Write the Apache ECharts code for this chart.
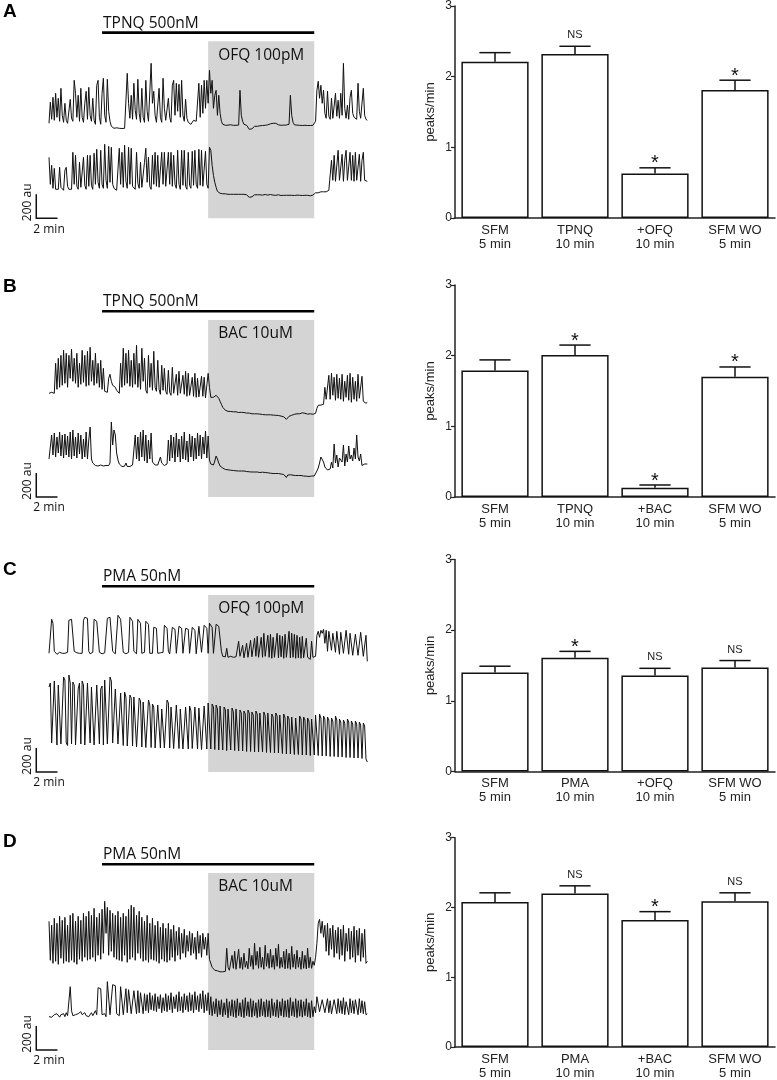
<!DOCTYPE html>
<html><head><meta charset="utf-8">
<script src="https://cdn.jsdelivr.net/npm/echarts/dist/echarts.min.js"></script>
<style>html,body{margin:0;padding:0;background:#fff}#c{width:777px;height:1080px}</style>
</head><body><div id="c"></div>
<script>
// ---------------- DATA ----------------
// Calcium traces, sampled every 0.125 min (0..30 min), values in au relative to each trace's own baseline
const SAMPLE_MIN = 0.125;
const traceA1 = [
0,210,40,260,30,300,60,250,20,350,
80,10,200,30,0,-10,240,50,20,430,
300,60,280,20,350,60,10,200,320,40,
360,80,20,250,30,-10,380,430,60,-10,
300,450,80,10,440,120,20,-30,-40,-50,
-50,-45,-55,-50,-48,-52,-45,-50,-40,500,
200,50,280,40,400,130,40,440,100,10,
350,60,10,430,120,20,10,600,200,320,
80,10,0,350,60,10,450,150,30,10,
250,60,10,380,430,80,400,120,390,60,
430,80,20,240,50,10,0,-10,0,30,
50,20,10,400,60,380,100,430,150,430,
200,530,300,430,150,280,330,80,280,100,
20,-10,-15,-20,-15,-18,-20,-15,-17,-20,
-18,-20,-15,-18,330,80,20,-10,-15,-20,
-40,-60,-65,-55,-40,-30,-35,-30,-28,-25,
-25,-22,-20,-20,-18,-15,-10,-5,0,0,
5,0,-10,-15,-18,-20,-15,-18,-20,-17,
-15,-10,280,80,10,-15,-20,-18,-22,-20,
-20,-22,-18,-20,-25,-22,-20,-22,-25,-20,
-10,20,330,420,250,380,200,330,100,50,
320,70,40,250,50,30,300,70,230,50,
300,80,600,150,50,180,40,260,330,100,
60,50,40,400,120,50,40,350,80,40,
30];
const traceA2 = [
330,60,250,20,220,10,0,10,230,30,
10,0,200,230,40,10,0,10,380,60,
350,40,10,280,30,10,330,50,10,350,
40,350,50,10,370,60,410,80,20,400,
60,20,460,100,20,440,80,430,60,20,
10,0,5,420,60,380,30,450,90,20,
430,60,420,40,20,10,380,70,20,280,
30,10,280,420,80,330,40,10,350,60,
380,40,350,30,10,380,60,380,40,20,
380,60,380,40,350,60,20,400,60,10,
400,50,400,40,10,380,50,20,390,50,
400,60,20,410,50,400,40,20,390,60,
20,430,400,250,150,80,30,-10,-20,-30,
-30,-35,-40,-35,-38,-40,-35,-40,-38,-40,
-42,-40,-38,-40,-42,-40,-45,-40,-42,-45,
-55,-70,-85,-65,-50,-45,-48,-45,-42,-45,
-45,-48,-45,-42,-45,-48,-45,-42,-45,-48,
-45,-50,-48,-45,-50,-52,-48,-50,-52,-50,
-48,-50,-52,-50,-48,-52,-50,-48,-52,-50,
-50,-52,-48,-50,-52,-50,-52,-55,-50,-48,
-30,-25,-20,-25,-20,-15,-20,-15,-10,-15,
-10,0,10,300,100,350,90,90,400,100,
80,360,90,300,400,100,80,380,100,350,
90,380,100,80,360,90,300,380,100,80,
90];
const traceB1 = [
0,20,10,5,0,300,40,350,60,380,
80,430,100,400,60,380,150,440,120,350,
100,400,60,300,90,430,110,380,70,420,
80,460,120,330,80,400,100,300,60,330,
40,250,20,0,10,150,190,120,80,100,
60,30,10,0,300,60,450,80,400,100,
430,70,330,60,400,90,480,60,300,40,
450,120,350,30,0,380,60,300,30,420,
60,20,330,40,-10,280,30,250,20,-10,
230,10,-20,260,0,-10,190,-20,220,0,
-20,180,-10,220,-30,200,-20,-35,160,-30,
200,-40,150,-35,-40,170,-30,160,-45,-40,
200,60,-40,-50,-40,-30,-20,-30,-50,-80,
-110,-140,-160,-170,-175,-180,-178,-182,-180,-185,
-188,-185,-190,-192,-188,-190,-195,-192,-195,-198,
-200,-198,-202,-205,-200,-205,-208,-205,-210,-208,
-210,-212,-210,-215,-212,-215,-218,-215,-220,-218,
-222,-220,-225,-222,-225,-228,-230,-235,-250,-260,
-240,-230,-225,-220,-215,-210,-212,-205,-200,-205,
-200,-195,-198,-200,-205,-208,-210,-205,-208,-210,
-212,-200,-150,-120,-115,-118,-120,-110,60,-60,
-80,180,-60,200,-20,160,-70,190,-50,150,
-60,190,-80,120,-40,180,-70,200,-90,160,
-60,120,-80,190,-50,-70,170,-80,-90,-100,
-90];
const traceB2 = [
60,80,300,100,320,80,280,120,330,90,
300,70,310,100,290,80,330,60,350,90,
280,70,320,110,300,60,260,80,330,60,
250,380,60,20,0,-5,0,-10,-5,0,
-5,-10,0,-5,-10,-5,20,430,200,350,
300,120,50,10,-10,-15,-10,-12,20,-15,
-10,-15,-10,0,20,300,60,280,40,330,
80,350,40,300,20,250,60,320,30,10,
0,-5,0,10,80,20,0,-5,0,10,
250,40,300,70,280,30,320,80,260,30,
290,60,330,50,240,30,310,80,290,40,
270,60,320,90,300,60,280,110,340,70,
290,50,10,-5,0,40,90,60,20,-10,
-25,-30,-40,-45,-50,-48,-50,-52,-50,-55,
-55,-58,-55,-60,-58,-60,-62,-60,-62,-65,
-65,-68,-65,-70,-68,-70,-72,-70,-72,-75,
-75,-72,-78,-75,-80,-78,-80,-82,-80,-85,
-82,-85,-88,-85,-88,-90,-92,-95,-110,-125,
-100,-95,-98,-100,-102,-100,-105,-102,-105,-108,
-105,-108,-110,-108,-112,-110,-115,-112,-110,-115,
-110,-90,-60,-30,20,80,60,30,-20,-40,
-50,-45,-40,30,-30,210,20,100,-20,70,
80,30,200,-10,110,30,190,60,100,40,
170,60,300,80,40,110,-5,-20,10,0,
10];
const traceC1 = [
0,10,340,300,20,0,-10,0,10,-5,
0,5,0,-10,10,330,350,340,320,20,
0,5,-5,0,10,0,330,360,340,350,
20,-5,0,10,340,330,320,300,10,0,
-5,0,5,10,350,370,360,340,20,0,
-5,0,380,360,340,320,10,0,-5,0,
10,360,340,320,20,0,-5,340,330,300,
0,-5,10,320,310,290,0,-5,0,260,
270,250,0,-10,5,0,10,280,260,250,
20,-5,0,260,250,240,0,-5,270,260,
250,0,0,250,270,240,0,-5,260,250,
230,-5,0,270,260,10,-5,280,270,250,
0,300,280,260,0,-5,290,300,270,280,
20,-30,-40,-35,50,-40,-45,-30,-50,-40,
-45,-35,-50,120,-30,-40,80,-45,-55,100,
-40,-50,130,-35,-55,150,-30,170,-40,-50,
160,-40,200,-30,-50,180,-40,190,-50,160,
-40,-55,200,-45,180,-35,170,-50,190,-40,
-55,220,-45,200,-40,190,-50,180,-45,160,
-50,170,-45,-55,150,-40,-55,-60,120,-40,
-50,-30,180,220,160,230,200,240,100,230,
20,220,210,30,200,190,10,220,200,-10,
210,200,0,-20,230,210,-10,200,190,-20,
-30,190,200,-20,-30,210,200,-30,-40,180,
-80];
const traceC2 = [
580,620,20,10,640,650,0,600,620,10,
0,680,650,20,-5,700,620,10,630,600,
0,-10,560,620,10,640,600,0,-10,620,
600,20,580,560,0,-10,600,620,10,560,
590,0,650,660,10,-10,680,640,20,0,
560,540,10,-10,520,500,-5,530,480,-10,
-15,500,470,-10,480,460,-20,-15,470,440,
-20,430,420,-25,-20,450,400,-25,410,380,
-30,-25,400,380,-30,360,370,-30,-35,450,
420,-30,380,360,-35,-30,400,380,-35,360,
340,-40,-35,380,360,-40,390,340,-35,-40,
380,360,-40,370,350,-45,-40,390,370,-40,
420,400,-40,410,380,-45,400,360,-50,390,
370,-50,380,350,-55,360,340,-50,370,330,
-55,360,340,-60,350,320,-60,340,310,-65,
350,320,-65,330,300,-70,340,310,-70,320,
300,-70,330,290,-75,320,300,-75,310,280,
-80,320,290,-80,300,280,-85,310,270,-90,
290,260,-90,280,300,-95,270,250,-95,290,
260,-100,280,250,-100,270,240,-105,260,250,
-100,300,280,-105,310,270,-110,290,260,-110,
280,250,-115,270,240,-115,290,250,-120,260,
230,-120,250,220,-125,260,230,-125,240,210,
-130,240,210,-130,230,200,-135,220,190,-140,
-170];
const traceD1 = [
420,30,380,0,450,20,400,-10,470,50,
430,0,460,20,380,10,480,30,500,10,
420,-10,470,40,430,20,500,60,470,30,
520,40,480,60,550,20,460,80,500,40,
540,100,620,300,560,80,530,120,500,60,
480,40,520,30,460,20,500,80,470,10,
540,40,580,60,560,30,480,100,520,50,
460,20,420,30,480,10,400,40,450,30,
380,20,420,0,360,40,400,20,350,10,
400,30,340,60,380,20,320,80,360,40,
300,100,340,60,280,120,320,80,300,100,
260,40,320,100,280,60,300,140,260,80,
300,40,20,-40,-60,-70,-80,-75,-80,-85,
-80,-85,-82,-80,150,-40,-70,-60,80,-50,
120,-60,-40,140,-50,60,-60,100,-40,20,
-55,150,-30,80,-60,200,-20,120,-50,160,
-40,60,-60,180,-30,100,-50,140,-40,80,
-60,150,-30,190,-50,60,-40,120,-55,140,
-50,100,-60,170,-40,90,-55,130,-40,60,
-60,120,-50,80,-55,150,-45,60,-50,20,
-20,60,200,400,440,300,420,260,380,120,
400,80,350,140,380,60,330,100,360,40,
340,80,380,20,300,120,350,40,320,60,
370,10,330,80,350,20,300,60,340,0,
20];
const traceD2 = [
0,10,-5,5,20,0,30,10,-5,20,
10,30,0,40,10,20,300,60,10,0,
20,0,30,10,50,20,0,40,10,30,
0,20,40,10,30,60,20,290,300,280,
20,10,30,0,350,340,20,40,320,330,
310,30,20,10,300,290,20,10,280,40,
270,260,30,20,260,250,30,260,40,240,
250,30,230,60,220,40,240,70,210,60,
230,50,200,80,220,40,190,60,230,50,
210,70,240,40,200,80,220,50,250,60,
200,40,230,70,210,50,240,60,220,40,
250,70,210,50,230,80,260,40,220,60,
240,20,200,10,150,30,180,0,160,20,
170,0,140,20,180,-10,150,10,170,0,
160,-10,180,10,140,0,170,-10,190,10,
150,0,180,-5,160,10,140,-10,170,0,
180,10,150,-5,170,0,160,-10,180,10,
140,0,170,-10,150,10,180,-5,160,0,
170,-10,190,10,150,0,180,-10,160,5,
170,-5,150,10,180,0,140,-10,160,0,
100,40,200,180,50,30,170,190,40,20,
180,40,160,30,20,170,150,30,180,40,
160,30,190,20,150,170,20,180,40,160,
30,170,150,20,180,40,160,30,150,20,
30];

// Treatment periods (min)
const drug1Labels = ['TPNQ 500nM', 'TPNQ 500nM', 'PMA 50nM', 'PMA 50nM'];
const drug2Labels = ['OFQ 100pM', 'BAC 10uM', 'OFQ 100pM', 'BAC 10uM'];
const drug1Period = [5, 25];
const drug2Period = [15, 25];
const panelLetters = ['A', 'B', 'C', 'D'];

// Bar charts (peaks/min, mean and SEM)
const catsA = ['SFM\n5 min', 'TPNQ\n10 min', '+OFQ\n10 min', 'SFM WO\n5 min'];
const catsB = ['SFM\n5 min', 'TPNQ\n10 min', '+BAC\n10 min', 'SFM WO\n5 min'];
const catsC = ['SFM\n5 min', 'PMA\n10 min', '+OFQ\n10 min', 'SFM WO\n5 min'];
const catsD = ['SFM\n5 min', 'PMA\n10 min', '+BAC\n10 min', 'SFM WO\n5 min'];
const meanA = [2.21, 2.32, 0.63, 1.81];
const semA  = [0.13, 0.11, 0.08, 0.14];
const meanB = [1.79, 2.01, 0.13, 1.70];
const semB  = [0.15, 0.14, 0.04, 0.14];
const meanC = [1.40, 1.61, 1.36, 1.47];
const semC  = [0.09, 0.09, 0.10, 0.10];
const meanD = [2.08, 2.20, 1.82, 2.09];
const semD  = [0.13, 0.11, 0.12, 0.12];
const sigA = ['', 'NS', '*', '*'];
const sigB = ['', '*', '*', '*'];
const sigC = ['', '*', 'NS', 'NS'];
const sigD = ['', 'NS', '*', 'NS'];
const yTicks = [0, 1, 2, 3];

// ---------------- LAYOUT ----------------
const traces = [[traceA1, traceA2], [traceB1, traceB2], [traceC1, traceC2], [traceD1, traceD2]];
const traceOffsets = [[950, 280], [1037, 320], [1187, 270], [867, 333]]; // display offsets (au)
const panelBottom = [218.3, 497, 772, 1050];
const barBottom = [218, 497, 771.5, 1049.7];
const letterTop = [5, 280, 563, 835];
const TRACE_H = 177, TRACE_LEFT = 49, TRACE_W = 318.3, AU_PER_PX = 10;
const BAR_LEFT = 455, BAR_W = 320, BAR_H = 212;
const cats = [catsA, catsB, catsC, catsD];
const means = [meanA, meanB, meanC, meanD];
const sems = [semA, semB, semC, semD];
const sigs = [sigA, sigB, sigC, sigD];

const FONT_T = '"Open Sans", "DejaVu Sans", sans-serif';
const FONT_B = '"Liberation Sans", Arial, sans-serif';
const INK = '#111';

const grid = [], xAxis = [], yAxis = [], series = [];
for (let k = 0; k < 4; k++) {
  grid.push({left: TRACE_LEFT, top: panelBottom[k] - TRACE_H, width: TRACE_W, height: TRACE_H});
  xAxis.push({gridIndex: k, type: 'value', min: 0, max: 30, show: false});
  yAxis.push({gridIndex: k, type: 'value', min: 0, max: TRACE_H * AU_PER_PX, show: false});
  series.push({
    type: 'line', xAxisIndex: k, yAxisIndex: k, data: [], z: 1, silent: true,
    markArea: {silent: true, itemStyle: {color: '#d4d4d4'}, label: {show: false},
      data: [[{xAxis: drug2Period[0]}, {xAxis: drug2Period[1]}]]}
  });
  traces[k].forEach((tr, j) => {
    series.push({
      type: 'line', xAxisIndex: k, yAxisIndex: k, z: 3, silent: true,
      symbol: 'none', lineStyle: {color: INK, width: 1},
      data: tr.map((v, i) => [i * SAMPLE_MIN, v + traceOffsets[k][j]])
    });
  });
}
for (let k = 0; k < 4; k++) {
  const g = 4 + k;
  grid.push({left: BAR_LEFT, top: barBottom[k] - BAR_H, width: BAR_W, height: BAR_H});
  xAxis.push({gridIndex: g, type: 'category', data: cats[k],
    axisLine: {lineStyle: {color: '#222', width: 1.5}}, axisTick: {show: false},
    axisLabel: {fontSize: 13, color: '#222', lineHeight: 14, margin: 5, fontFamily: FONT_B}});
  yAxis.push({gridIndex: g, type: 'value', min: yTicks[0], max: yTicks[yTicks.length - 1], interval: 1,
    axisLine: {show: true, lineStyle: {color: '#222', width: 1.5}},
    axisTick: {show: true, length: 4, lineStyle: {color: '#222', width: 1.2}},
    axisLabel: {fontSize: 12, color: '#222', margin: 3, fontFamily: FONT_B},
    splitLine: {show: false},
    name: 'peaks/min', nameLocation: 'middle', nameGap: 18,
    nameTextStyle: {fontSize: 13, color: '#222', fontFamily: FONT_B}});
  series.push({type: 'bar', xAxisIndex: g, yAxisIndex: g, data: means[k], barCategoryGap: '16%',
    silent: true, itemStyle: {color: '#fff', borderColor: INK, borderWidth: 1.5}, z: 2});
  const sig = sigs[k];
  series.push({type: 'custom', xAxisIndex: g, yAxisIndex: g, z: 4, silent: true,
    data: means[k].map((m, i) => [i, m, sems[k][i]]),
    renderItem: function (params, api) {
      const i = api.value(0), m = api.value(1), e = api.value(2);
      const p0 = api.coord([i, m]), p1 = api.coord([i, m + e]);
      const half = api.size([1, 0])[0] * 0.195;
      const ch = [
        {type: 'line', shape: {x1: p0[0], y1: p0[1], x2: p1[0], y2: p1[1]}, style: {stroke: INK, lineWidth: 1.5}},
        {type: 'line', shape: {x1: p1[0] - half, y1: p1[1], x2: p1[0] + half, y2: p1[1]}, style: {stroke: INK, lineWidth: 1.5}}
      ];
      const s = sig[params.dataIndex];
      if (s === '*') {
        ch.push({type: 'text', x: p1[0], y: p1[1] - 4, style: {text: '*', font: '20px ' + FONT_B, fill: INK, align: 'center', verticalAlign: 'middle'}});
      } else if (s) {
        ch.push({type: 'text', x: p1[0], y: p1[1] - 11, style: {text: s, font: '11px ' + FONT_B, fill: '#222', align: 'center', verticalAlign: 'middle'}});
      }
      return {type: 'group', children: ch};
    }});
}

const chart = echarts.init(document.getElementById('c'));
chart.setOption({animation: false, backgroundColor: '#fff', grid, xAxis, yAxis, series});

// annotations positioned through the trace axes (drawn above the shaded area)
const graphic = [];
for (let k = 0; k < 4; k++) {
  const px = t => chart.convertToPixel({xAxisIndex: k, yAxisIndex: k}, [t, 0])[0];
  const gb = panelBottom[k], gt = gb - TRACE_H;
  const x1 = px(drug1Period[0]), x2 = px(drug1Period[1]), xg = px(drug2Period[0]);
  graphic.push({type: 'rect', z: 100, shape: {x: x1, y: gt - 10, width: x2 - x1, height: 2.6}, style: {fill: '#000'}});
  graphic.push({type: 'text', z: 100, x: x1 + 1, y: gt - 18, style: {text: drug1Labels[k], font: '15.5px ' + FONT_T, fill: INK, verticalAlign: 'middle'}});
  graphic.push({type: 'text', z: 100, x: xg + 10, y: gt + 14, style: {text: drug2Labels[k], font: '15.5px ' + FONT_T, fill: INK, verticalAlign: 'middle'}});
  graphic.push({type: 'text', z: 100, x: 3, y: letterTop[k] + 7, style: {text: panelLetters[k], font: 'bold 19px ' + FONT_B, fill: '#000', verticalAlign: 'middle'}});
  const s0 = px(-1.2), s1 = px(0.8);
  graphic.push({type: 'polyline', z: 100, shape: {points: [[s0, gb - 24], [s0, gb], [s1, gb]]}, style: {stroke: INK, lineWidth: 1.5, fill: null}});
  graphic.push({type: 'text', z: 100, x: s0 - 9, y: gb - 16, rotation: Math.PI / 2, style: {text: '200 au', font: '12px ' + FONT_T, fill: INK, align: 'center', verticalAlign: 'middle'}});
  graphic.push({type: 'text', z: 100, x: s0 - 3, y: gb + 11, style: {text: '2 min', font: '12px ' + FONT_T, fill: INK, verticalAlign: 'middle'}});
}
chart.setOption({graphic});
</script></body></html>
